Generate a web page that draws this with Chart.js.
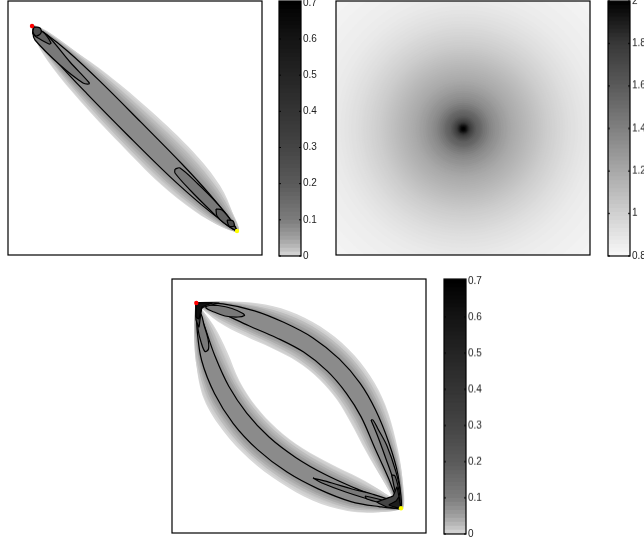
<!DOCTYPE html>
<html><head><meta charset="utf-8">
<style>html,body{margin:0;padding:0;background:#fff;width:644px;height:540px;overflow:hidden}canvas{position:absolute;display:block}</style>
<script src="https://cdn.jsdelivr.net/npm/chart.js@4"></script>
</head><body>
<script>
// ---------- colour bars ----------
const barValues = [0, .02, .05, .08, .1, .2, .3, .4, .5, .6, .7];
const barGrays = [216, 190, 160, 138, 124, 90, 68, 52, 36, 20, 0];
const bar2Values = [.8, 1, 1.2, 1.4, 1.6, 1.8, 2];
const bar2Grays = [248, 208, 168, 128, 90, 56, 0];
const ticksA = [0, .1, .2, .3, .4, .5, .6, .7];
const ticksB = [.8, 1, 1.2, 1.4, 1.6, 1.8, 2];

// ---------- middle panel: iso-rings of the radial field ----------
const ringCenter = [127.3, 127.7];
const ringRadius = [190,180,170,160,150,140,133,127,123,119,115,112,108,105,102,100,97,94,92,89,87,84,82,80,78,76,74,72,70,68,66,64,62,60,58,56,54,52,50,48,47,45,44,43,41,40,38,36,34,32,30,28,26,24,22,20,18.5,17,15.5,14,12.5,11,10,9,8,7,6,5,4,3.2,2.5,1.8,1.2];
const ringValue = [.81,.82,.83,.84,.85,.86,.87,.88,.89,.90,.91,.92,.93,.94,.95,.96,.97,.98,.99,1.00,1.01,1.02,1.03,1.04,1.05,1.06,1.07,1.08,1.09,1.10,1.11,1.12,1.13,1.14,1.15,1.16,1.17,1.18,1.19,1.20,1.21,1.22,1.23,1.24,1.25,1.26,1.28,1.30,1.31,1.33,1.35,1.37,1.40,1.43,1.46,1.49,1.52,1.54,1.56,1.58,1.62,1.66,1.69,1.72,1.75,1.79,1.83,1.87,1.91,1.94,1.97,1.99,2.0];

// ---------- halo level values, lightest first ----------
const haloValues = [0, .014, .03, .046, .062];
const bandValue = .078;

// ---------- left panel ----------
const p1Spine = [[24,25],[34,35],[55,56],[85.5,86.5],[126.5,127.5],[167.5,168.5],[198,199],[219,220],[229,230]];
const p1Up = [
 [1,7,12,19,24,25,20,9,1],
 [1,6,11,17,21,22,17,8,1],
 [1,5,10,15,18,19,15,7,1],
 [0,5,9,13,15,15,12,5,0],
 [0,4,8,11,12,12,9,4,0]];
const p1Lo = [
 [1,8,15,19,21,21,16,8,1],
 [1,7,13,17,19,19,14,7,1],
 [1,6,11,15,17,16,12,6,1],
 [0,5,10,13,14,14,10,5,0],
 [0,5,9,11,12,11,8,4,0]];
const p1ContourUp = [0,4,7.5,9,9,8.5,6.5,3,0];
const p1ContourLo = [0,4,7.5,9,9.5,9,6.5,3,0];
const p1Loops = [
 {value:.11, pts:[[27,27],[39,34],[62,61],[81,81.5],[81,83],[75,82],[52,64],[27,39],[25,32]]},
 {value:.18, pts:[[25,28],[35,31],[43,42],[41,43],[30,37],[25,33]]},
 {value:.26, pts:[[26,26],[32,27],[33,32],[28,35],[25,31]]},
 {value:.11, pts:[[167,168],[172,167],[190,183],[207,200],[222,218],[228,229],[215,221],[202,209],[183,190],[167,172]]},
 {value:.18, pts:[[208,208],[214,209],[224,221],[228,229],[216,222],[209,215]]},
 {value:.26, pts:[[219,219],[225,220],[226,225],[221,225]]}];
const p1Start = [24,25];
const p1End = [229,230];

// ---------- bottom panel ----------
const p3UpperSpine = [[24.3,24],[49.7,29.3],[79.7,39.3],[108,51],[136.3,66],[161.3,86],[181.3,109.3],[196.3,134.3],[209.7,166],[221.3,197.7],[229,229.3]];
const p3UpperUp = [
 [0,7,16,21,22,22,21,19,15,9,1],
 [0,6,14,18,19,19,18,17,13,8,1],
 [0,6,12,16,17,17,16,14,12,7,1],
 [0,5,11,13,14,14,13,12,10,6,0],
 [0,5,9,11,11,11,11,10,9,6,0]];
const p3UpperLo = [
 [0,14,19,20,20,20,20,20,17,11,1],
 [0,12,16,18,18,18,18,18,15,10,1],
 [0,10,14,15,16,16,16,15,13,8,1],
 [0,8,12,13,13,13,13,13,11,7,0],
 [0,6,10,11,11,11,11,10,9,6,0]];
const p3UpperContour = [0,4.5,8,8.5,8.5,8.5,8.5,8,7.5,5,0];
const p3LowerSpine = [[24.3,24],[29,49.3],[36.3,79.3],[49.7,111],[68,139.3],[91.3,164.3],[119.7,186],[149.7,202.7],[181.3,216],[208,223.7],[229,229.3]];
const p3LowerUp = [
 [0,13,20,20,20,20,20,20,18,11,1],
 [0,11,17,18,18,18,18,18,16,10,1],
 [0,9,14,15,16,16,16,15,13,8,1],
 [0,7,11,13,13,13,13,13,11,7,0],
 [0,5,9,11,11,11,11,10,9,5,0]];
const p3LowerLo = [
 [0,7,13,20,21,21,21,21,17,10,1],
 [0,6,12,18,18,18,18,18,15,9,1],
 [0,6,11,15,16,16,16,15,13,7,1],
 [0,5,9,13,13,14,13,13,11,6,0],
 [0,5,8,11,11,11,11,11,9,5,0]];
const p3LowerContour = [0,4,7,8,8.5,8.5,8.5,8,7,4,0];
const p3Loops = [
 {value:.11, pts:[[35,26],[46,26.5],[60,29.5],[71,34.5],[72.5,36.5],[66,38],[53,37],[42,33],[34,29]]},
 {value:.11, pts:[[26,35],[26,50],[29,63],[33,72.5],[36.5,70],[36,60],[32,46],[29,35]]},
 {value:.11, pts:[[199,141],[206,158],[214,180],[221,200],[226,220],[228,212],[224,193],[215,167],[206,150],[201,141]]},
 {value:.16, pts:[[219.7,196],[224,215],[228,222],[227,212],[223,197]]},
 {value:.11, pts:[[141,199],[160,204],[180,210],[200,215],[223,223],[224,226],[200,221],[173,212.7],[150,204]]},
 {value:.16, pts:[[193,217],[210,221],[226,227],[210,224],[195,220]]}];
const p3Wedges = [
 {value:.3, pts:[[24,24],[47,24],[30,29],[27,48],[24,41]]},
 {value:.62, pts:[[24,24],[40,24],[30,28],[27,40],[24,38]]},
 {value:.3, pts:[[229,230],[225,208],[221,217],[205,223],[215,228]]},
 {value:.55, pts:[[229,230],[227,218],[224,222],[217,226]]}];
const p3Start = [24.3,24];
const p3End = [229,229.3];

// ---------- helpers ----------
Chart.defaults.animation = false;
Chart.defaults.font.family = '"Liberation Sans", Arial, sans-serif';

function interp(xs, ys, v){
  if (v <= xs[0]) return ys[0];
  for (let i = 1; i < xs.length; i++) if (v <= xs[i]) {
    const t = (v - xs[i-1]) / (xs[i] - xs[i-1]);
    return ys[i-1] + t * (ys[i] - ys[i-1]);
  }
  return ys[ys.length-1];
}
const grayOf = g => { const c = Math.round(g); return `rgb(${c},${c},${c})`; };
const shadeA = v => grayOf(interp(barValues, barGrays, v));
const shadeB = v => grayOf(interp(bar2Values, bar2Grays, v));

function ribbon(spine, up, lo){
  const n = spine.length, nx = [], ny = [];
  for (let i = 0; i < n; i++) {
    const a = spine[Math.max(i-1,0)], b = spine[Math.min(i+1,n-1)];
    const dx = b[0]-a[0], dy = b[1]-a[1], l = Math.hypot(dx,dy);
    nx.push(dy/l); ny.push(-dx/l);
  }
  const pts = [];
  for (let i = 0; i < n; i++) pts.push([spine[i][0]+nx[i]*up[i], spine[i][1]+ny[i]*up[i]]);
  for (let i = n-2; i > 0; i--) pts.push([spine[i][0]-nx[i]*lo[i], spine[i][1]-ny[i]*lo[i]]);
  pts.push(pts[0]);
  return pts;
}
const asXY = pts => pts.map(p => ({x:p[0], y:p[1]}));
function polyDs(pts, fillC, strokeC, tension, width){
  return {data:asXY(pts), showLine:true, fill:'shape', backgroundColor:fillC,
    borderColor:strokeC || 'rgba(0,0,0,0)', borderWidth:strokeC ? (width||1.2) : 0, pointRadius:0, tension:tension===undefined?0.35:tension};
}
function closeLoop(pts){ return pts.concat([pts[0]]); }
function markerDs(p, color){
  return {data:[{x:p[0],y:p[1]}], showLine:false, pointRadius:2.2, pointBackgroundColor:color, pointBorderWidth:0};
}
const frame = {id:'frame', afterDraw(c){
  const a = c.chartArea, x = c.ctx;
  x.save(); x.strokeStyle = '#000'; x.lineWidth = 1.2;
  x.strokeRect(a.left, a.top, a.right-a.left, a.bottom-a.top);
  x.restore();
}};
const inwardTicks = {id:'inwardTicks', afterDraw(c){
  const a = c.chartArea, x = c.ctx, s = c.scales.y;
  x.save(); x.strokeStyle = '#000'; x.lineWidth = 1;
  s.ticks.forEach(t => {
    const y = s.getPixelForValue(t.value);
    x.beginPath(); x.moveTo(a.left, y); x.lineTo(a.left+2, y); x.moveTo(a.right-2, y); x.lineTo(a.right, y); x.stroke();
  });
  x.restore();
}};
function makeCanvas(l,t,w,h){
  const cv = document.createElement('canvas');
  cv.style.left = l+'px'; cv.style.top = t+'px'; cv.style.width = w+'px'; cv.style.height = h+'px';
  cv.width = w; cv.height = h; document.body.appendChild(cv); return cv;
}
function panel(left, top, datasets){
  datasets.forEach((d,i) => d.order = -i);
  new Chart(makeCanvas(left-1, top-1, 256, 256), {
    type:'scatter',
    data:{datasets},
    options:{responsive:false, devicePixelRatio:1, events:[], layout:{padding:1, autoPadding:false},
      plugins:{legend:{display:false}, tooltip:{enabled:false}},
      scales:{x:{type:'linear', display:false, min:0, max:254},
              y:{type:'linear', display:false, min:0, max:254, reverse:true}}},
    plugins:[frame]
  });
}
function colorbar(left, top, bottom, min, max, ticks, shade){
  const H = bottom - top, N = 64, ds = [], canvasTop = Math.max(top-8,0), padTop = top-canvasTop;
  for (let i = 0; i < N; i++) {
    const hi = min + (max-min)*(i+1)/N, mid = min + (max-min)*(i+.5)/N;
    ds.push({data:[[min, hi]], backgroundColor:shade(mid), borderWidth:0, barPercentage:1, categoryPercentage:1, grouped:false});
  }
  new Chart(makeCanvas(left-1, canvasTop, 48, H+padTop+8), {
    type:'bar',
    data:{labels:[''], datasets:ds},
    options:{responsive:false, devicePixelRatio:1, events:[],
      layout:{autoPadding:false, padding:{left:1, top:padTop, bottom:8, right:0}},
      plugins:{legend:{display:false}, tooltip:{enabled:false}},
      scales:{x:{display:false},
        y:{position:'right', min, max, grid:{display:false, drawTicks:false}, border:{display:false},
           afterBuildTicks(s){ s.ticks = ticks.map(v => ({value:v})); },
           afterFit(s){ s.width = 25; s.paddingTop = 0; s.paddingBottom = 0; },
           ticks:{padding:2, color:'#222', font:{size:10}, autoSkip:false, maxRotation:0,
                  callback:v => String(v)}}}},
    plugins:[frame, inwardTicks]
  });
}
function bandLayers(bands, loops, wedges, start, end){
  const ds = [];
  haloValues.forEach((v,li) => bands.forEach(b => {
    const edge = li ? shadeA((v + haloValues[li-1]) / 2) : null;
    ds.push(polyDs(ribbon(b.spine, b.up[li], b.lo[li]), shadeA(v), edge, undefined, 2));
  }));
  bands.forEach(b => {
    const inner = polyDs(ribbon(b.spine, b.cUp, b.cLo), shadeA(bandValue), shadeA((bandValue + haloValues[4]) / 2), undefined, 2);
    ds.push(inner);
  });
  bands.forEach(b => {
    const line = polyDs(ribbon(b.spine, b.cUp, b.cLo), 'rgba(0,0,0,0)', '#000');
    ds.push(line);
  });
  loops.forEach(l => ds.push(polyDs(closeLoop(l.pts), shadeA(l.value), '#000')));
  wedges.forEach(w => ds.push(polyDs(closeLoop(w.pts), shadeA(w.value), '#000', 0.1)));
  ds.push(markerDs(start,'#ff0000'), markerDs(end,'#ffff00'));
  return ds;
}

// ---------- draw ----------
panel(8, 1, bandLayers([{spine:p1Spine, up:p1Up, lo:p1Lo, cUp:p1ContourUp, cLo:p1ContourLo}], p1Loops, [], p1Start, p1End));
colorbar(279, 1, 256, 0, .705, ticksA, shadeA);

panel(336, 1, [{
  data:ringRadius.map(() => ({x:ringCenter[0], y:ringCenter[1]})),
  showLine:false, clip:0, pointBorderWidth:0,
  pointRadius(ctx){ const s = ctx.chart.scales.x; return Math.abs(s.getPixelForValue(ringRadius[ctx.dataIndex]) - s.getPixelForValue(0)); },
  pointBackgroundColor(ctx){ return shadeB(ringValue[ctx.dataIndex]); }
}]);
colorbar(608, 1, 255.5, .8, 2, ticksB, shadeB);

panel(172, 279, bandLayers([
  {spine:p3UpperSpine, up:p3UpperUp, lo:p3UpperLo, cUp:p3UpperContour, cLo:p3UpperContour},
  {spine:p3LowerSpine, up:p3LowerUp, lo:p3LowerLo, cUp:p3LowerContour, cLo:p3LowerContour}
], p3Loops, p3Wedges, p3Start, p3End));
colorbar(444, 279, 533.5, 0, .705, ticksA, shadeA);
</script>
</body></html>
